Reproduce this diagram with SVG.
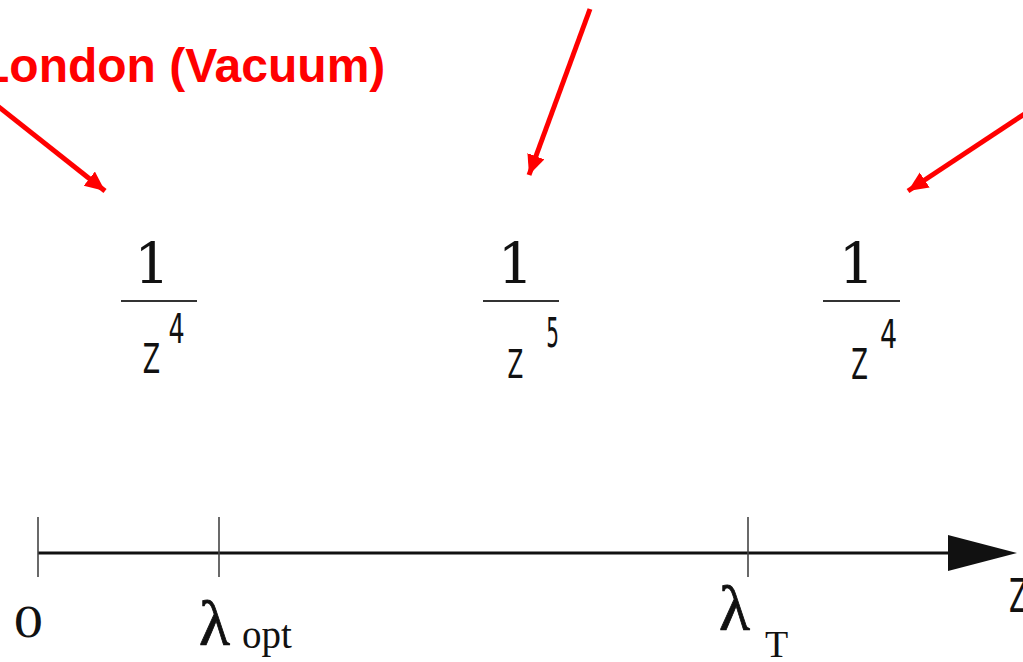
<svg xmlns="http://www.w3.org/2000/svg" width="1023" height="662" viewBox="0 0 1023 662">
<defs>
<style>
.red{fill:#ff0000;font-family:"Liberation Sans",Arial,sans-serif;font-weight:bold}
.ser{fill:#111;font-family:"Liberation Serif","Times New Roman",serif}
.dser{fill:#111;font-family:"DejaVu Serif",serif}
.san{fill:#111;font-family:"DejaVu Sans",sans-serif}
.lam{stroke:#111;stroke-width:0.8}
.conn{stroke:#ff0000;stroke-width:5;fill:none}
.frac{stroke:#333;stroke-width:2}
.tick{stroke:#444;stroke-width:1.6}
</style>
<marker id="rh" markerUnits="userSpaceOnUse" markerWidth="22" markerHeight="20" refX="20" refY="9" orient="auto">
<path d="M0,0 L20,9 L0,18 Z" fill="#ff0000"/>
</marker>
</defs>
<rect width="1023" height="662" fill="#fff"/>

<g id="label-london">
<text class="red" x="-20" y="82" font-size="48">London (Vacuum)</text>
</g>

<g id="connectors">
<line class="conn" x1="-10" y1="100" x2="105" y2="191" marker-end="url(#rh)"/>
<line class="conn" x1="590" y1="9" x2="529" y2="175" marker-end="url(#rh)"/>
<line class="conn" x1="1032" y1="109" x2="908" y2="191" marker-end="url(#rh)"/>
</g>

<g id="frac1">
<text class="dser" x="152" y="283" font-size="56" text-anchor="middle">1</text>
<line class="frac" x1="121" y1="301" x2="197" y2="301"/>
<text class="san" font-size="41" text-anchor="middle" transform="translate(151.5 373) scale(0.62 1)">Z</text>
<text class="san" font-size="41" text-anchor="middle" transform="translate(176.5 343) scale(0.62 1)">4</text>
</g>

<g id="frac2">
<text class="dser" x="515.5" y="283" font-size="56" text-anchor="middle">1</text>
<line class="frac" x1="483" y1="301" x2="559" y2="301"/>
<text class="san" font-size="38.5" text-anchor="middle" transform="translate(515.5 378) scale(0.6 1)">Z</text>
<text class="san" font-size="40" text-anchor="middle" transform="translate(552.5 347) scale(0.5 1)">5</text>
</g>

<g id="frac3">
<text class="dser" x="856.5" y="283" font-size="56" text-anchor="middle">1</text>
<line class="frac" x1="823" y1="301" x2="900" y2="301"/>
<text class="san" font-size="42" text-anchor="middle" transform="translate(859.5 379) scale(0.58 1)">Z</text>
<text class="san" font-size="38.5" text-anchor="middle" transform="translate(888.5 348) scale(0.7 1)">4</text>
</g>

<g id="axis">
<line x1="38" y1="553" x2="952" y2="553" stroke="#111" stroke-width="3"/>
<polygon points="948,535 1017,553 948,571" fill="#111"/>
<line class="tick" x1="38" y1="517" x2="38" y2="577"/>
<line class="tick" x1="219" y1="517" x2="219" y2="577"/>
<line class="tick" x1="748" y1="517" x2="748" y2="577"/>
<text class="dser" font-size="41" text-anchor="middle" transform="translate(28.5 637) scale(1.2 1)">0</text>
<text class="ser lam" x="199" y="645" font-size="64">λ</text>
<text class="ser" x="242" y="648" font-size="39">opt</text>
<text class="ser lam" x="719" y="630" font-size="64">λ</text>
<text class="ser" x="765" y="657" font-size="38">T</text>
<text class="san" font-size="46" transform="translate(1009 612) scale(0.6 1)">Z</text>
</g>
</svg>
